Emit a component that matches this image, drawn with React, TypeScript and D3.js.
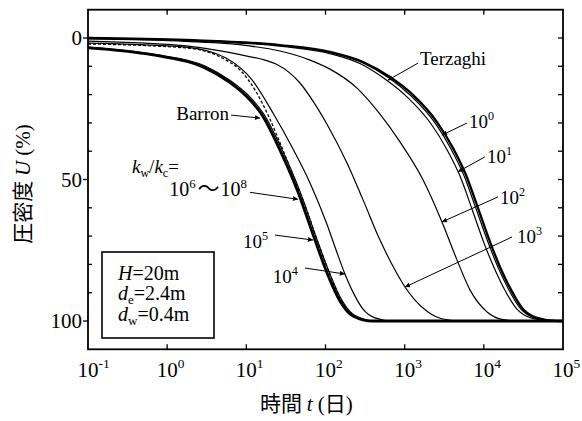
import React from 'react';
import * as d3 from 'd3';

// ---- data (time t in days, degree of consolidation U in %) ----
const terzaghiT = [0.1, 1.73, 26.6, 114, 298, 653, 1270, 2560, 4080, 5950, 8440, 12000, 16000, 21400, 31200, 46900, 84000, 100000];
const terzaghiU = [0, 0.7, 2.5, 4.9, 8.5, 13.8, 20.1, 29.7, 38.9, 48.4, 60.1, 72.1, 80.9, 88.3, 95.8, 98.9, 100, 100];

const r0T = [0.1, 1.73, 26.6, 114, 298, 634, 1200, 2420, 3850, 5610, 7960, 11300, 15100, 20200, 29400, 44300, 79200, 100000];
const r0U = [0, 0.7, 2.6, 5.1, 8.8, 14.1, 20.4, 30.0, 39.2, 48.6, 60.3, 72.2, 81.0, 88.4, 95.8, 98.9, 100, 100];

const r1T = [0.1, 1.73, 26.6, 114, 281, 564, 1070, 2150, 3430, 5000, 7080, 10000, 13400, 17900, 26200, 39400, 68500, 100000];
const r1U = [0, 0.9, 2.9, 5.5, 9.2, 14.5, 20.8, 30.3, 39.5, 48.8, 60.4, 72.3, 81.0, 88.4, 95.8, 98.9, 100, 100];

const r2T = [0.1, 1.73, 11.1, 26.6, 63.7, 114, 250, 488, 873, 1660, 2960, 4580, 6680, 11000, 17500, 28600, 100000];
const r2U = [0.35, 1.2, 2.8, 4.6, 7.8, 11.0, 17.7, 26.9, 36.7, 49.5, 65.0, 78.4, 89.0, 96.8, 99.5, 100, 100];

const r3T = [0.1, 1.73, 10.2, 17.2, 23.7, 35.6, 47.6, 69.5, 104, 187, 298, 488, 755, 1010, 1350, 1970, 3050, 5140, 100000];
const r3U = [1.1, 2.8, 6.4, 7.8, 9.2, 12.4, 15.9, 22.3, 30.4, 44.2, 57.2, 71.4, 82.0, 88.0, 92.6, 96.8, 99.3, 100, 100];

const r4T = [0.1, 1.73, 5.53, 11.8, 21.7, 37.7, 63.7, 104, 136, 176, 229, 298, 422, 692, 100000];
const r4U = [1.8, 3.2, 7.1, 14.8, 26.5, 38.5, 51.2, 65.7, 74.9, 83.4, 90.5, 95.8, 98.9, 100, 100];

const r5T = [0.1, 0.662, 3.01, 6.40, 10.2, 16.7, 28.2, 47.6, 78.1, 114, 162, 236, 422, 100000];
const r5U = [3.2, 5.7, 9.9, 15.2, 19.8, 27.0, 39.4, 54.2, 71.2, 83.5, 92.8, 98.1, 100, 100];

const r68T = [0.1, 0.662, 2.84, 6.04, 9.62, 15.8, 26.6, 44.9, 73.6, 107, 152, 222, 398, 100000];
const r68U = [3.5, 6.0, 10.2, 15.5, 20.1, 27.2, 39.6, 54.4, 71.4, 83.7, 92.9, 98.2, 100, 100];

const barronT = [0.1, 1.73, 5.53, 8.32, 12.9, 18.8, 29.0, 42.4, 56.7, 75.9, 111, 157, 229, 387, 100000];
const barronU = [2.1, 3.5, 7.8, 11.3, 18.4, 27.2, 39.6, 51.2, 60.1, 70.3, 82.7, 92.6, 98.2, 100, 100];

const xTickValues = [0.1, 1, 10, 100, 1000, 10000, 100000];
const xTickExps = ['-1', '0', '1', '2', '3', '4', '5'];
const yLabelValues = [0, 50, 100];
const yMinorValues = [-10, 0, 10, 20, 30, 40, 50, 60, 70, 80, 90, 100, 110];

const W = 582;
const H = 421;
const serif = '"Liberation Serif", "Times New Roman", Times, serif';
const cjk = '"Noto Sans CJK JP", "Noto Sans CJK SC", sans-serif';
const sf: React.CSSProperties = { fontFamily: serif };
const cf: React.CSSProperties = { fontFamily: cjk };

type Series = { t: number[]; u: number[]; width: number; dash?: string };

const series: Series[] = [
  { t: r3T, u: r3U, width: 1.2 },
  { t: r2T, u: r2U, width: 1.2 },
  { t: r1T, u: r1U, width: 1.2 },
  { t: r0T, u: r0U, width: 1.2 },
  { t: terzaghiT, u: terzaghiU, width: 2.3 },
  { t: r4T, u: r4U, width: 1.2 },
  { t: barronT, u: barronU, width: 1.3, dash: '3,2' },
  { t: r5T, u: r5U, width: 1.2 },
  { t: r68T, u: r68U, width: 2.8 },
];

type Ann = { t: number; u: number; tail: [number, number]; text: [number, number]; anchor: 'start' | 'end'; label: React.ReactNode };

function Pow({ base, exp, size }: { base: string; exp: string; size: number }) {
  return (
    <>
      <tspan>{base}</tspan>
      <tspan fontSize={size * 0.64} dy={-size * 0.42}>{exp}</tspan>
    </>
  );
}

export default function App() {
  const x = d3.scaleLog().domain([0.1, 1e5]).range([88, 563]);
  const y = d3.scaleLinear().domain([0, 100]).range([38, 321]);
  const top = y(-10);
  const bottom = y(110);
  const left = x(0.1);
  const right = x(1e5);

  const line = d3
    .line<[number, number]>()
    .x((d) => x(d[0]))
    .y((d) => y(d[1]))
    .curve(d3.curveMonotoneX);

  const anns: Ann[] = [
    { t: 615, u: 14.9, tail: [30, -17], text: [32, -15], anchor: 'start', label: 'Terzaghi' },
    { t: 2960, u: 34.3, tail: [25, -12], text: [27, -7], anchor: 'start', label: <Pow base="10" exp="0" size={19} /> },
    { t: 4710, u: 47.3, tail: [27, -15], text: [29, -9], anchor: 'start', label: <Pow base="10" exp="1" size={19} /> },
    { t: 2960, u: 65.0, tail: [56, -25], text: [58, -18], anchor: 'start', label: <Pow base="10" exp="2" size={19} /> },
    { t: 1010, u: 88.0, tail: [107, -50], text: [112, -44], anchor: 'start', label: <Pow base="10" exp="3" size={19} /> },
    { t: 14.9, u: 28.3, tail: [-29, -3], text: [-31, 2], anchor: 'end', label: 'Barron' },
    {
      t: 44.9,
      u: 57.0,
      tail: [-48, -7],
      text: [-51, -3],
      anchor: 'end',
      label: (
        <>
          <Pow base="10" exp="6" size={20} />
          <tspan dy={20 * 0.42} dx={2} style={cf} fontSize={22}>～</tspan>
          <tspan dx={1}>10</tspan>
          <tspan fontSize={20 * 0.64} dy={-20 * 0.42}>8</tspan>
        </>
      ),
    },
    { t: 69.5, u: 71.4, tail: [-38, -5], text: [-45, 8], anchor: 'end', label: <Pow base="10" exp="5" size={19} /> },
    { t: 176, u: 83.4, tail: [-40, -6], text: [-47, 9], anchor: 'end', label: <Pow base="10" exp="4" size={19} /> },
  ];

  return (
    <svg width={W} height={H} style={{ position: 'absolute', left: 0, top: 0, background: '#fff' }}>
      <defs>
        <marker id="arr" viewBox="0 0 10 10" refX="10" refY="5" markerWidth="7" markerHeight="5" orient="auto" markerUnits="userSpaceOnUse">
          <path d="M0,0 L10,5 L0,10 Z" fill="#000" />
        </marker>
      </defs>
      <rect x={0} y={0} width={W} height={H} fill="#fff" />

      {/* curves */}
      <g fill="none" stroke="#000" strokeLinejoin="round">
        {series.map((s, i) => (
          <path
            key={i}
            d={line(s.t.map((t, j) => [t, s.u[j]] as [number, number])) || ''}
            strokeWidth={s.width}
            strokeDasharray={s.dash}
          />
        ))}
      </g>

      {/* frame */}
      <rect x={left} y={top} width={right - left} height={bottom - top} fill="none" stroke="#000" strokeWidth={1.8} />

      {/* ticks */}
      <g stroke="#000" strokeWidth={1.3}>
        {xTickValues.slice(1, -1).map((v) => (
          <g key={v}>
            <line x1={x(v)} x2={x(v)} y1={bottom} y2={bottom - 5} />
            <line x1={x(v)} x2={x(v)} y1={top} y2={top + 5} />
          </g>
        ))}
        {yMinorValues.slice(1, -1).map((v) => (
          <g key={v}>
            {yLabelValues.includes(v) ? (
              <line x1={left} x2={left - 5} y1={y(v)} y2={y(v)} />
            ) : (
              <line x1={left} x2={left + 4} y1={y(v)} y2={y(v)} />
            )}
            <line x1={right} x2={right - 5} y1={y(v)} y2={y(v)} />
          </g>
        ))}
      </g>

      {/* x tick labels */}
      <g fontSize={21} fill="#000">
        {xTickValues.map((v, i) => (
          <text key={v} x={x(v) - 10.5} y={377} style={sf}>
            <Pow base="10" exp={xTickExps[i]} size={21} />
          </text>
        ))}
      </g>
      {/* y tick labels */}
      <g fontSize={21} fill="#000" textAnchor="end">
        {yLabelValues.map((v) => (
          <text key={v} x={82} y={y(v) + 7} style={sf}>
            {v}
          </text>
        ))}
      </g>

      {/* axis titles */}
      <text x={260} y={411} fontSize={21} fill="#000" style={sf}>
        <tspan style={cf}>時間 </tspan>
        <tspan fontStyle="italic">t</tspan>
        <tspan> (</tspan>
        <tspan style={cf}>日</tspan>
        <tspan>)</tspan>
      </text>
      <text transform={`translate(30,${184}) rotate(-90)`} textAnchor="middle" fontSize={21} fill="#000" style={sf}>
        <tspan style={cf}>圧密度 </tspan>
        <tspan fontStyle="italic">U</tspan>
        <tspan> (%)</tspan>
      </text>

      {/* annotations */}
      <g fontSize={19} fill="#000">
        {anns.map((a, i) => {
          const tx = x(a.t);
          const ty = y(a.u);
          return (
            <g key={i}>
              <line x1={tx + a.tail[0]} y1={ty + a.tail[1]} x2={tx} y2={ty} stroke="#000" strokeWidth={1} markerEnd="url(#arr)" />
              <text x={tx + a.text[0]} y={ty + a.text[1]} textAnchor={a.anchor} style={sf} fontSize={a.t === 44.9 ? 20 : 19}>
                {a.label}
              </text>
            </g>
          );
        })}
        <text x={132} y={173} fontSize={19} style={sf}>
          <tspan fontStyle="italic">k</tspan>
          <tspan fontSize={12} dy={4}>w</tspan>
          <tspan dy={-4}>/</tspan>
          <tspan fontStyle="italic">k</tspan>
          <tspan fontSize={12} dy={4}>c</tspan>
          <tspan dy={-4}>=</tspan>
        </text>
      </g>

      {/* parameter box */}
      <rect x={102} y={252} width={112} height={86} fill="#fff" stroke="#000" strokeWidth={1.6} />
      <g fontSize={20} fill="#000">
        <text x={118} y={280} style={sf}>
          <tspan fontStyle="italic">H</tspan>
          <tspan>=20m</tspan>
        </text>
        <text x={118} y={300} style={sf}>
          <tspan fontStyle="italic">d</tspan>
          <tspan fontSize={13} dy={4}>e</tspan>
          <tspan dy={-4}>=2.4m</tspan>
        </text>
        <text x={118} y={321} style={sf}>
          <tspan fontStyle="italic">d</tspan>
          <tspan fontSize={13} dy={4}>w</tspan>
          <tspan dy={-4}>=0.4m</tspan>
        </text>
      </g>
    </svg>
  );
}
